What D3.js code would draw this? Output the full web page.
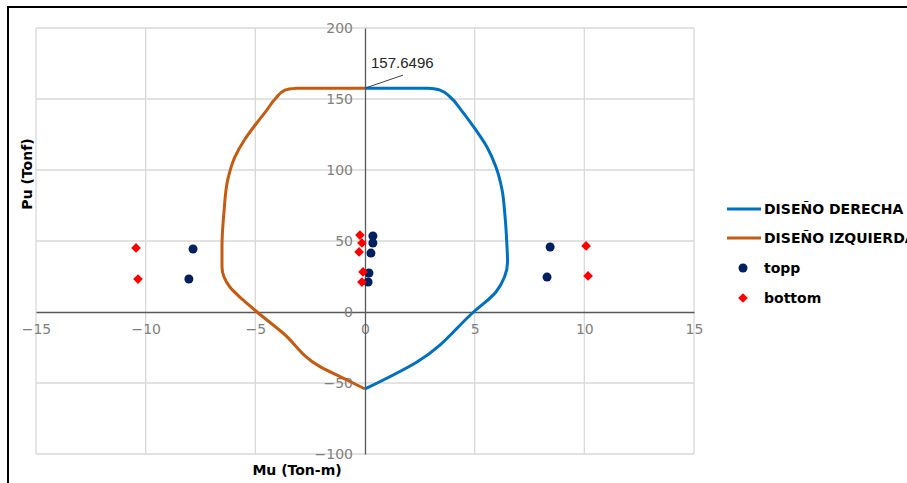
<!DOCTYPE html>
<html>
<head>
<meta charset="utf-8">
<script src="https://cdn.jsdelivr.net/npm/d3@7"></script>
<style>
  body { margin: 0; background: #fff; }
  svg { display: block; }
</style>
</head>
<body>
<div id="canvas"></div>
<script>
"use strict"

/* chart data */
let derechaM = [0, 2.87, 3.42, 3.88, 4.42, 5.02, 5.56, 5.97, 6.25, 6.38, 6.47, 6.5, 6.36, 5.97, 4.95, 2.37, 0];
let derechaP = [157.65, 157.6, 156.3, 151.4, 141.5, 128.9, 116.2, 102.1, 85.9, 68.3, 47.2, 35.2, 24.6, 14.1, 0, -35.2, -54.2];

let izquierdaM = [0, -3.10, -3.65, -4.06, -4.51, -4.97, -5.47, -5.93, -6.25, -6.43, -6.52, -6.52, -6.16, -5.56, -4.92, -3.74, -2.05, -0.82, 0];
let izquierdaP = [157.65, 157.6, 156.3, 150.7, 141.5, 132.4, 121.8, 109.2, 93.7, 70.4, 46.5, 31.7, 17.6, 8.5, 0, -14.8, -38.5, -47.9, -54.2];

let toppM = [-7.84, -8.03, 0.36, 0.36, 0.27, 0.18, 0.14, 8.44, 8.30];
let toppP = [44.4, 23.2, 53.5, 48.6, 41.5, 27.5, 21.1, 45.8, 24.6];

let bottomM = [-10.44, -10.35, -0.23, -0.14, -0.27, -0.09, -0.14, 10.08, 10.17];
let bottomP = [45.1, 23.2, 54.2, 48.6, 42.3, 28.2, 21.1, 46.5, 25.4];

let xTicks = [-15, -10, -5, 0, 5, 10, 15];
let yTicks = [-100, -50, 0, 50, 100, 150, 200];
let seriesNames = ["DISEÑO DERECHA", "DISEÑO IZQUIERDA", "topp", "bottom"];
let peakLabel = "157.6496";

/* canvas */
let svgWidth = 907;
let svgHeight = 483;
let plotLeft = 36, plotRight = 694, plotTop = 28, plotBottom = 454;

let blue = "#0070C0";
let orange = "#C55A11";
let navy = "#002060";
let red = "#FF0000";
let tickFont = "'DejaVu Sans', sans-serif";
let boldFont = "'DejaVu Sans', sans-serif";

let svg = d3.select("#canvas")
    .append("svg")
    .attr("width", svgWidth)
    .attr("height", svgHeight);

svg.append("rect")
    .attr("width", svgWidth)
    .attr("height", svgHeight)
    .attr("fill", "#fff");

// outer frame, cut off on the right and bottom like the screenshot
svg.append("rect")
    .attr("x", 8)
    .attr("y", 7)
    .attr("width", svgWidth + 20)
    .attr("height", svgHeight + 20)
    .attr("fill", "none")
    .attr("stroke", "#000")
    .attr("stroke-width", 2);

let xScale = d3.scaleLinear().domain([-15, 15]).range([plotLeft, plotRight]);
let yScale = d3.scaleLinear().domain([-100, 200]).range([plotBottom, plotTop]);

/* gridlines */
svg.append("g")
    .selectAll("line")
    .data(xTicks.filter(d => d !== 0))
    .join("line")
    .attr("x1", d => xScale(d))
    .attr("x2", d => xScale(d))
    .attr("y1", plotTop)
    .attr("y2", plotBottom)
    .attr("stroke", "#d9d9d9")
    .attr("stroke-width", 1.3);

svg.append("g")
    .selectAll("line")
    .data(yTicks.filter(d => d !== 0))
    .join("line")
    .attr("x1", plotLeft)
    .attr("x2", plotRight)
    .attr("y1", d => yScale(d))
    .attr("y2", d => yScale(d))
    .attr("stroke", "#d9d9d9")
    .attr("stroke-width", 1.3);

/* axes through the origin */
let xAxis = d3.axisBottom(xScale).tickValues(xTicks).tickSize(0).tickPadding(12);
let gx = svg.append("g")
    .attr("transform", "translate(0," + yScale(0) + ")")
    .call(xAxis);
gx.select(".domain").attr("stroke", "#595959").attr("stroke-width", 1.3);
gx.selectAll("text")
    .attr("fill", "#7f7f7f")
    .style("font-family", tickFont)
    .style("font-size", "14px");

let yAxis = d3.axisLeft(yScale).tickValues(yTicks).tickSize(0).tickPadding(12);
let gy = svg.append("g")
    .attr("transform", "translate(" + xScale(0) + ",0)")
    .call(yAxis);
gy.select(".domain").attr("stroke", "#595959").attr("stroke-width", 1.3);
gy.selectAll("text")
    .attr("fill", "#7f7f7f")
    .style("font-family", tickFont)
    .style("font-size", "14px");

/* interaction curves - P falls steadily along each one, so a monotone-in-y curve keeps them smooth */
let line = d3.line()
    .x(d => xScale(d[0]))
    .y(d => yScale(d[1]))
    .curve(d3.curveMonotoneY);

svg.append("path")
    .datum(izquierdaM.map((m, i) => [m, izquierdaP[i]]))
    .attr("d", line)
    .attr("fill", "none")
    .attr("stroke", orange)
    .attr("stroke-width", 3);

svg.append("path")
    .datum(derechaM.map((m, i) => [m, derechaP[i]]))
    .attr("d", line)
    .attr("fill", "none")
    .attr("stroke", blue)
    .attr("stroke-width", 3);

/* load points */
svg.append("g")
    .selectAll("circle")
    .data(toppM.map((m, i) => [m, toppP[i]]))
    .join("circle")
    .attr("cx", d => xScale(d[0]))
    .attr("cy", d => yScale(d[1]))
    .attr("r", 4.5)
    .attr("fill", navy);

let diamond = d3.symbol().type(d3.symbolDiamond2).size(60);
svg.append("g")
    .selectAll("path")
    .data(bottomM.map((m, i) => [m, bottomP[i]]))
    .join("path")
    .attr("transform", d => "translate(" + xScale(d[0]) + "," + yScale(d[1]) + ")")
    .attr("d", diamond)
    .attr("fill", red);

/* data label on the peak */
let peakX = xScale(derechaM[0]);
let peakY = yScale(derechaP[0]);
svg.append("line")
    .attr("x1", peakX)
    .attr("y1", peakY)
    .attr("x2", peakX + 38)
    .attr("y2", peakY - 13)
    .attr("stroke", "#404040")
    .attr("stroke-width", 1);

svg.append("text")
    .attr("x", peakX + 6)
    .attr("y", peakY - 20)
    .attr("fill", "#262626")
    .style("font-family", "'Liberation Sans', sans-serif")
    .style("font-size", "15px")
    .text(peakLabel);

/* axis titles */
svg.append("text")
    .attr("x", 297)
    .attr("y", 475)
    .attr("text-anchor", "middle")
    .style("font-family", boldFont)
    .style("font-weight", "bold")
    .style("font-size", "14px")
    .text("Mu (Ton-m)");

svg.append("text")
    .attr("transform", "translate(32,174) rotate(-90)")
    .attr("text-anchor", "middle")
    .style("font-family", boldFont)
    .style("font-weight", "bold")
    .style("font-size", "14px")
    .text("Pu (Tonf)");

/* legend */
let legendY = [209, 238, 268, 298];
let legend = svg.append("g");
legend.append("line")
    .attr("x1", 727).attr("x2", 761)
    .attr("y1", legendY[0]).attr("y2", legendY[0])
    .attr("stroke", blue).attr("stroke-width", 3);
legend.append("line")
    .attr("x1", 727).attr("x2", 761)
    .attr("y1", legendY[1]).attr("y2", legendY[1])
    .attr("stroke", orange).attr("stroke-width", 3);
legend.append("circle")
    .attr("cx", 743).attr("cy", legendY[2])
    .attr("r", 4.5).attr("fill", navy);
legend.append("path")
    .attr("transform", "translate(743," + legendY[3] + ")")
    .attr("d", diamond)
    .attr("fill", red);

legend.selectAll("text")
    .data(seriesNames)
    .join("text")
    .attr("x", 764)
    .attr("y", (d, i) => legendY[i])
    .attr("dy", "0.35em")
    .style("font-family", boldFont)
    .style("font-weight", "bold")
    .style("font-size", "14px")
    .text(d => d);
</script>
</body>
</html>
